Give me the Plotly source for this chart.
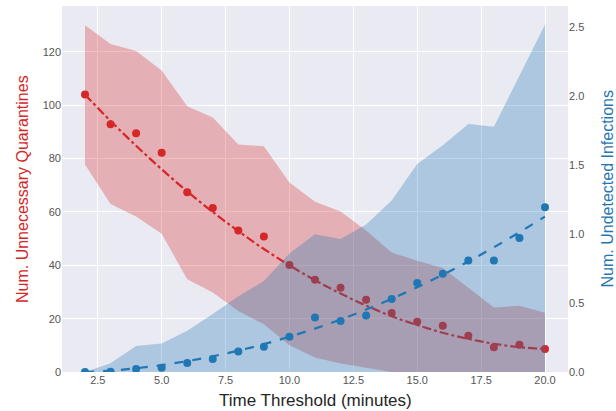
import plotly.graph_objects as go

# ---- data ----
thresholds = [2, 3, 4, 5, 6, 7, 8, 9, 10, 11, 12, 13, 14, 15, 16, 17, 18, 19, 20]

quarantines_mean = [104.0, 92.9, 89.5, 82.2, 67.4, 61.5, 53.0, 50.8, 40.1, 34.6, 31.6,
                    27.1, 22.1, 18.8, 17.3, 13.6, 9.3, 10.2, 8.6]
quarantines_upper = [130.0, 123.0, 120.3, 113.0, 99.6, 95.4, 85.3, 84.6, 71.0, 63.8, 60.2,
                     53.0, 44.8, 41.7, 39.0, 31.7, 24.2, 24.8, 22.2]
quarantines_lower = [77.8, 63.0, 58.3, 51.8, 34.8, 29.8, 22.9, 17.9, 10.0, 5.4, 3.2,
                     1.6, 0.0, 0.0, 0.0, 0.0, 0.0, 0.0, 0.0]
quarantines_fit = [104.0, 94.1, 84.8, 76.0, 67.7, 60.0, 52.8, 46.1, 40.0, 34.4, 29.4,
                   24.9, 20.9, 17.6, 14.7, 12.4, 10.6, 9.3, 8.6]

infections_mean = [0.0, 0.002, 0.022, 0.03, 0.065, 0.095, 0.148, 0.184, 0.255, 0.395, 0.371,
                   0.41, 0.529, 0.646, 0.713, 0.81, 0.81, 0.973, 1.196]
infections_upper = [0.0, 0.063, 0.189, 0.206, 0.30, 0.42, 0.55, 0.66, 0.86, 1.0, 0.966,
                    1.07, 1.245, 1.51, 1.645, 1.80, 1.78, 2.15, 2.52]
infections_lower = [0.0] * 19
infections_fit = [0.0, 0.010, 0.027, 0.050, 0.079, 0.114, 0.155, 0.202, 0.256, 0.315, 0.381,
                  0.453, 0.531, 0.615, 0.706, 0.802, 0.905, 1.014, 1.128]

x_title = "Time Threshold (minutes)"
y_left_title = "Num. Unnecessary Quarantines"
y_right_title = "Num. Undetected Infections"

RED = "#d62728"
BLUE = "#1f77b4"
FONT = "Arial, Liberation Sans, Helvetica, sans-serif"

fig = go.Figure()

# red band (left axis)
fig.add_trace(go.Scatter(x=thresholds, y=quarantines_lower, mode="lines",
                         line=dict(width=0), hoverinfo="skip", showlegend=False, yaxis="y"))
fig.add_trace(go.Scatter(x=thresholds, y=quarantines_upper, mode="lines", fill="tonexty",
                         fillcolor="rgba(214,39,40,0.3)", line=dict(width=0),
                         hoverinfo="skip", showlegend=False, yaxis="y"))
fig.add_trace(go.Scatter(x=thresholds, y=quarantines_fit, mode="lines",
                         line=dict(color=RED, width=2.2, dash="dashdot", shape="spline"),
                         showlegend=False, yaxis="y"))
fig.add_trace(go.Scatter(x=thresholds, y=quarantines_mean, mode="markers",
                         marker=dict(color=RED, size=8), showlegend=False, yaxis="y"))

# blue band (right axis)
fig.add_trace(go.Scatter(x=thresholds, y=infections_lower, mode="lines",
                         line=dict(width=0), hoverinfo="skip", showlegend=False, yaxis="y2"))
fig.add_trace(go.Scatter(x=thresholds, y=infections_upper, mode="lines", fill="tonexty",
                         fillcolor="rgba(31,119,180,0.3)", line=dict(width=0),
                         hoverinfo="skip", showlegend=False, yaxis="y2"))
fig.add_trace(go.Scatter(x=thresholds, y=infections_fit, mode="lines",
                         line=dict(color=BLUE, width=2.2, dash="dash", shape="spline"),
                         showlegend=False, yaxis="y2"))
fig.add_trace(go.Scatter(x=thresholds, y=infections_mean, mode="markers",
                         marker=dict(color=BLUE, size=8), showlegend=False, yaxis="y2"))

fig.update_layout(
    width=616, height=411,
    margin=dict(l=62, r=48, t=6, b=39, autoexpand=False),
    paper_bgcolor="white",
    plot_bgcolor="#eaeaf2",
    font=dict(family=FONT, color="#555555", size=11),
    xaxis=dict(range=[1.1, 20.9], tick0=2.5, dtick=2.5, tickformat=".1f",
               showgrid=True, gridcolor="white", gridwidth=1.2, zeroline=False,
               showline=False, ticks="", automargin=False),
    yaxis=dict(range=[0, 137.2], tick0=0, dtick=20, showgrid=True, gridcolor="white",
               gridwidth=1.2, zeroline=False, showline=False, ticks="", automargin=False),
    yaxis2=dict(range=[0, 2.656], tick0=0, dtick=0.5, tickformat=".1f", overlaying="y",
                side="right", showgrid=False, zeroline=False, showline=False, ticks="",
                automargin=False),
    annotations=[
        dict(text=x_title, xref="paper", yref="paper", x=0.5, y=-0.077,
             xanchor="center", yanchor="middle", showarrow=False,
             font=dict(size=17, color="#262626")),
        dict(text=y_left_title, xref="paper", yref="paper", x=-0.079, y=0.5,
             xanchor="center", yanchor="middle", textangle=-90, showarrow=False,
             font=dict(size=16, color=RED)),
        dict(text=y_right_title, xref="paper", yref="paper", x=1.078, y=0.5,
             xanchor="center", yanchor="middle", textangle=-90, showarrow=False,
             font=dict(size=16, color=BLUE)),
    ],
)

fig.write_html("out.html", config={"displayModeBar": False},
               post_script="document.body.style.margin='0';")
